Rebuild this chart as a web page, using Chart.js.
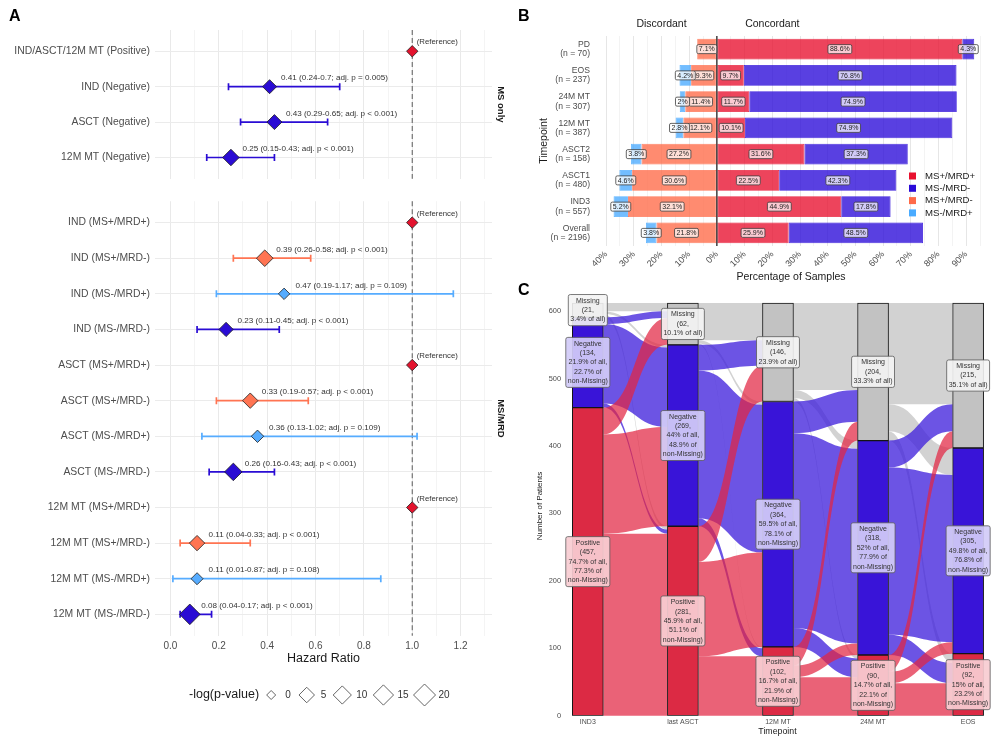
<!DOCTYPE html>
<html>
<head>
<meta charset="utf-8">
<title>MS / MRD hazard ratios, concordance and patient flow</title>
<script src="https://cdn.jsdelivr.net/npm/chart.js@4.4.1/dist/chart.umd.min.js"></script>
<style>
  html, body { margin: 0; padding: 0; background: #fff; }
  #page { position: relative; width: 1000px; height: 743px; overflow: hidden; font-family: "Liberation Sans", Arial, sans-serif; }
  canvas { position: absolute; }
  .tag { position: absolute; font-weight: bold; font-size: 16px; color: #000; line-height: 18px; }
</style>
</head>
<body>
<div id="page">
  <canvas id="forestTop" width="515" height="190" style="left:0;top:0"></canvas>
  <canvas id="forestBottom" width="515" height="553" style="left:0;top:190px"></canvas>
  <canvas id="concordance" width="480" height="285" style="left:520px;top:0"></canvas>
  <canvas id="alluvial" width="480" height="458" style="left:520px;top:285px"></canvas>
  <div class="tag" style="left:9px;top:7px">A</div>
  <div class="tag" style="left:518px;top:7px">B</div>
  <div class="tag" style="left:518px;top:281px">C</div>
</div>
<script>
// ---------- panel A: hazard ratios ----------
const msOnlyRows = ['IND/ASCT/12M MT (Positive)', 'IND (Negative)', 'ASCT (Negative)', '12M MT (Negative)'];
const msOnlyGroup = ['Positive', 'Negative', 'Negative', 'Negative'];
const msOnlyHR = [1, 0.41, 0.43, 0.25];
const msOnlyLo = [null, 0.24, 0.29, 0.15];
const msOnlyHi = [null, 0.7, 0.65, 0.43];
const msOnlyP = [null, '= 0.005', '< 0.001', '< 0.001'];
const msOnlyLogP = [0.7, 3.0, 4.3, 6.8];

const msMrdRows = [
  'IND (MS+/MRD+)', 'IND (MS+/MRD-)', 'IND (MS-/MRD+)', 'IND (MS-/MRD-)',
  'ASCT (MS+/MRD+)', 'ASCT (MS+/MRD-)', 'ASCT (MS-/MRD+)', 'ASCT (MS-/MRD-)',
  '12M MT (MS+/MRD+)', '12M MT (MS+/MRD-)', '12M MT (MS-/MRD+)', '12M MT (MS-/MRD-)'
];
const msMrdGroup = ['MS+/MRD+', 'MS+/MRD-', 'MS-/MRD+', 'MS-/MRD-',
                    'MS+/MRD+', 'MS+/MRD-', 'MS-/MRD+', 'MS-/MRD-',
                    'MS+/MRD+', 'MS+/MRD-', 'MS-/MRD+', 'MS-/MRD-'];
const msMrdHR = [1, 0.39, 0.47, 0.23, 1, 0.33, 0.36, 0.26, 1, 0.11, 0.11, 0.08];
const msMrdLo = [null, 0.26, 0.19, 0.11, null, 0.19, 0.13, 0.16, null, 0.04, 0.01, 0.04];
const msMrdHi = [null, 0.58, 1.17, 0.45, null, 0.57, 1.02, 0.43, null, 0.33, 0.87, 0.17];
const msMrdP = [null, '< 0.001', '= 0.109', '< 0.001', null, '< 0.001', '= 0.109', '< 0.001',
                null, '< 0.001', '= 0.108', '< 0.001'];
const msMrdLogP = [0.7, 6.8, 0.7, 3.4, 0.7, 4.8, 1.4, 8.7, 0.7, 4.8, 1.1, 15.9];
const sizeKeyValues = [0, 5, 10, 15, 20];

// ---------- panel B: concordance ----------
const bTimepoints = ['PD', 'EOS', '24M MT', '12M MT', 'ASCT2', 'ASCT1', 'IND3', 'Overall'];
const bCounts = [70, 237, 307, 387, 158, 480, 557, 2196];
const bPosPos = [88.6, 9.7, 11.7, 10.1, 31.6, 22.5, 44.9, 25.9];   // MS+/MRD+
const bNegNeg = [4.3, 76.8, 74.9, 74.9, 37.3, 42.3, 17.8, 48.5];   // MS-/MRD-
const bPosNeg = [7.1, 9.3, 11.4, 12.1, 27.2, 30.6, 32.1, 21.8];    // MS+/MRD-
const bNegPos = [0, 4.2, 2, 2.8, 3.8, 4.6, 5.2, 3.8];              // MS-/MRD+
const bSides = ['Discordant', 'Concordant'];

// ---------- panel C: alluvial ----------
const cTimepoints = ['IND3', 'last ASCT', '12M MT', '24M MT', 'EOS'];
const cStatus = ['Positive', 'Negative', 'Missing'];
const cPositive = [457, 281, 102, 90, 92];
const cNegative = [134, 269, 364, 318, 305];
const cMissing = [21, 62, 146, 204, 215];
// rows: from Positive/Negative/Missing, columns: to Positive/Negative/Missing
const cFlowIND3toASCT = [[270, 147, 40], [6, 118, 10], [5, 4, 12]];
const cFlowASCTto12M = [[88, 140, 53], [12, 219, 38], [2, 5, 55]];
const cFlow12Mto24M = [[57, 17, 28], [28, 289, 47], [5, 12, 129]];
const cFlow24MtoEOS = [[48, 17, 25], [30, 248, 40], [14, 40, 150]];

const FONT = '"Liberation Sans", Arial, sans-serif';
Chart.defaults.font.family = FONT;
Chart.defaults.animation = false;
Chart.defaults.responsive = false;
Chart.defaults.plugins.legend.display = false;
Chart.defaults.plugins.tooltip.enabled = false;

const GROUP_COLOURS = {
  'Positive': '#e3132e', 'MS+/MRD+': '#e3132e',
  'Negative': '#2a0cd4', 'MS-/MRD-': '#2a0cd4',
  'MS+/MRD-': '#ff7452', 'MS-/MRD+': '#56acff'
};
const sizeForLogP = v => 4.5 + 6.5 * Math.sqrt(v / 20);

function box(ctx, x, y, w, h, r) {
  ctx.beginPath();
  if (ctx.roundRect) ctx.roundRect(x, y, w, h, r); else ctx.rect(x, y, w, h);
}

function forestChart(id, o) {
  const n = o.rows.length;
  const decor = {
    id: 'forestDecor',
    beforeDatasetsDraw(chart) {
      const { ctx, chartArea: a, scales: { x, y } } = chart;
      ctx.save();
      const xr = x.getPixelForValue(1);
      ctx.strokeStyle = '#5a5a5a';
      ctx.lineWidth = 1;
      ctx.setLineDash([5, 3]);
      ctx.beginPath(); ctx.moveTo(xr, a.top); ctx.lineTo(xr, a.bottom); ctx.stroke();
      ctx.setLineDash([]);
      o.rows.forEach((r, i) => {
        if (o.lo[i] == null) return;
        const yy = y.getPixelForValue(i);
        const x0 = x.getPixelForValue(o.lo[i]), x1 = x.getPixelForValue(o.hi[i]);
        ctx.strokeStyle = GROUP_COLOURS[o.group[i]];
        ctx.lineWidth = 1.7;
        ctx.beginPath();
        ctx.moveTo(x0, yy); ctx.lineTo(x1, yy);
        ctx.moveTo(x0, yy - 3.5); ctx.lineTo(x0, yy + 3.5);
        ctx.moveTo(x1, yy - 3.5); ctx.lineTo(x1, yy + 3.5);
        ctx.stroke();
      });
      ctx.restore();
    },
    afterDatasetsDraw(chart) {
      const { ctx, scales: { x, y } } = chart;
      ctx.save();
      ctx.fillStyle = '#333';
      ctx.textBaseline = 'middle';
      ctx.textAlign = 'left';
      o.rows.forEach((r, i) => {
        const px = x.getPixelForValue(o.hr[i]), py = y.getPixelForValue(i);
        if (o.lo[i] == null) {
          ctx.font = '7.8px ' + FONT;
          ctx.fillText('(Reference)', px + 4.5, py - 9);
        } else {
          ctx.font = '8.1px ' + FONT;
          ctx.fillText(`${o.hr[i]} (${o.lo[i]}-${o.hi[i]}; adj. p ${o.p[i]})`, px + 11.5, py - 8.5);
        }
      });
      ctx.restore();
    },
    afterDraw(chart) {
      const { ctx, chartArea: a } = chart;
      ctx.save();
      ctx.fillStyle = '#1a1a1a';
      ctx.font = 'bold 9.5px ' + FONT;
      ctx.textAlign = 'center';
      ctx.textBaseline = 'middle';
      ctx.translate(a.right + 9, (a.top + a.bottom) / 2);
      ctx.rotate(Math.PI / 2);
      ctx.fillText(o.strip, 0, 0);
      ctx.restore();
      if (!o.footer) return;
      ctx.save();
      ctx.fillStyle = '#1a1a1a';
      ctx.textBaseline = 'middle';
      ctx.textAlign = 'center';
      ctx.font = '12.5px ' + FONT;
      ctx.fillText('Hazard Ratio', (a.left + a.right) / 2, a.bottom + 22.6);
      // size legend
      const ly = a.bottom + 59.3;
      ctx.textAlign = 'left';
      ctx.fillText('-log(p-value)', 189, ly);
      let cur = 189 + ctx.measureText('-log(p-value)').width + 2;
      ctx.font = '10px ' + FONT;
      sizeKeyValues.forEach(v => {
        const cx = cur + 10, r = sizeForLogP(v);
        ctx.beginPath();
        ctx.moveTo(cx, ly - r); ctx.lineTo(cx + r, ly); ctx.lineTo(cx, ly + r); ctx.lineTo(cx - r, ly);
        ctx.closePath();
        ctx.fillStyle = '#fff'; ctx.fill();
        ctx.strokeStyle = '#555'; ctx.lineWidth = 0.9; ctx.stroke();
        ctx.fillStyle = '#333';
        ctx.fillText(String(v), cx + 14, ly);
        cur = cx + 14 + ctx.measureText(String(v)).width + 6;
      });
      ctx.restore();
    }
  };

  return new Chart(document.getElementById(id), {
    type: 'scatter',
    data: {
      datasets: [{
        data: o.hr.map((v, i) => ({ x: v, y: i })),
        pointStyle: 'rectRot',
        pointRadius: o.logp.map(sizeForLogP),
        backgroundColor: o.group.map(g => GROUP_COLOURS[g]),
        borderColor: '#1f1f1f',
        borderWidth: 0.8
      }]
    },
    options: {
      layout: { padding: o.padding },
      scales: {
        x: {
          type: 'linear', min: -0.064, max: 1.33,
          afterFit: s => { s.height = o.footer ? 22 : 0; },
          border: { display: false },
          grid: {
            drawTicks: false,
            color: c => (Math.round(c.tick.value * 10) % 2 === 0 ? '#e9e9e9' : '#f4f4f4')
          },
          ticks: {
            display: !!o.footer, stepSize: 0.1, includeBounds: false, autoSkip: false, maxRotation: 0,
            padding: 5, color: '#4d4d4d', font: { size: 10 },
            callback: v => (Math.round(v * 10) % 2 === 0 ? v.toFixed(1) : '')
          }
        },
        y: {
          type: 'linear', reverse: true, min: -0.6, max: n - 0.4,
          afterFit: s => { s.width = 155; },
          border: { display: false },
          grid: { drawTicks: false, color: '#ebebeb' },
          ticks: {
            stepSize: 1, includeBounds: false, autoSkip: false, padding: 5,
            color: '#4d4d4d', font: { size: 10.4 },
            callback: v => o.rows[v] ?? ''
          }
        }
      }
    },
    plugins: [decor]
  });
}

forestChart('forestTop', {
  rows: msOnlyRows, group: msOnlyGroup, hr: msOnlyHR, lo: msOnlyLo, hi: msOnlyHi,
  p: msOnlyP, logp: msOnlyLogP, strip: 'MS only', footer: false,
  padding: { top: 30, right: 23, bottom: 8.3, left: 0 }
});
forestChart('forestBottom', {
  rows: msMrdRows, group: msMrdGroup, hr: msMrdHR, lo: msMrdLo, hi: msMrdHi,
  p: msMrdP, logp: msMrdLogP, strip: 'MS/MRD', footer: true,
  padding: { top: 5, right: 23, bottom: 85.3, left: 0 }
});

// ---------- panel B ----------
const B_COLOURS = ['#e8102e', '#2a0ad8', '#ff6a48', '#4aabff'];
const B_NAMES = ['MS+/MRD+', 'MS-/MRD-', 'MS+/MRD-', 'MS-/MRD+'];
const fade = (hex, a) => {
  const n = parseInt(hex.slice(1), 16);
  return `rgba(${n >> 16},${(n >> 8) & 255},${n & 255},${a})`;
};

const concordanceDecor = {
  id: 'concordanceDecor',
  afterDatasetsDraw(chart) {
    const { ctx, chartArea: a, scales: { x } } = chart;
    ctx.save();
    const x0 = x.getPixelForValue(0);
    ctx.strokeStyle = '#000';
    ctx.lineWidth = 1.1;
    ctx.beginPath(); ctx.moveTo(x0, a.top); ctx.lineTo(x0, a.bottom); ctx.stroke();
    ctx.font = '7px ' + FONT;
    ctx.textAlign = 'center';
    ctx.textBaseline = 'middle';
    chart.data.datasets.forEach((ds, di) => {
      chart.getDatasetMeta(di).data.forEach((bar, i) => {
        const v = Math.abs(ds.data[i]);
        if (!v) return;
        const txt = v + '%';
        const { x: cx, y: cy } = bar.getCenterPoint();
        const w = ctx.measureText(txt).width + 4, h = 9;
        box(ctx, cx - w / 2, cy - h / 2, w, h, 1.5);
        ctx.fillStyle = 'rgba(255,255,255,0.72)'; ctx.fill();
        ctx.strokeStyle = '#3d3d3d'; ctx.lineWidth = 0.8; ctx.stroke();
        ctx.fillStyle = '#222';
        ctx.fillText(txt, cx, cy + 0.3);
      });
    });
    ctx.restore();
  },
  afterDraw(chart) {
    const { ctx, chartArea: a, scales: { x } } = chart;
    ctx.save();
    ctx.fillStyle = '#1a1a1a';
    ctx.textAlign = 'center';
    ctx.textBaseline = 'middle';
    ctx.font = '10.5px ' + FONT;
    ctx.fillText(bSides[0], x.getPixelForValue(-20), 24);
    ctx.fillText(bSides[1], x.getPixelForValue(20), 24);
    ctx.fillText('Percentage of Samples', (a.left + a.right) / 2, 277);
    ctx.save();
    ctx.translate(24, (a.top + a.bottom) / 2);
    ctx.rotate(-Math.PI / 2);
    ctx.fillText('Timepoint', 0, 0);
    ctx.restore();
    ctx.textAlign = 'left';
    ctx.font = '9.6px ' + FONT;
    B_NAMES.forEach((name, i) => {
      const cy = 176 + i * 12.3;
      ctx.fillStyle = B_COLOURS[i];
      ctx.fillRect(389, cy - 3.5, 7, 7);
      ctx.fillStyle = '#1a1a1a';
      ctx.fillText(name, 405, cy);
    });
    ctx.restore();
  }
};

new Chart(document.getElementById('concordance'), {
  type: 'bar',
  data: {
    labels: bTimepoints.map((t, i) => [t, `(n = ${bCounts[i]})`]),
    datasets: [
      { label: B_NAMES[0], data: bPosPos },
      { label: B_NAMES[1], data: bNegNeg },
      { label: B_NAMES[2], data: bPosNeg.map(v => -v) },
      { label: B_NAMES[3], data: bNegPos.map(v => -v) }
    ].map((d, i) => Object.assign(d, {
      backgroundColor: fade(B_COLOURS[i], 0.78),
      borderColor: fade(B_COLOURS[i], 0.9),
      borderWidth: 0.8,
      borderSkipped: false,
      barPercentage: 0.79,
      categoryPercentage: 1
    }))
  },
  options: {
    indexAxis: 'y',
    layout: { padding: { top: 36, right: 18, bottom: 0, left: 0 } },
    scales: {
      x: {
        type: 'linear', stacked: true, min: -42.2, max: 95.7,
        afterFit: s => { s.height = 39; },
        border: { display: false },
        grid: {
          drawTicks: false,
          color: c => (Math.round(c.tick.value) % 10 === 0 ? '#e6e6e6' : '#f3f3f3')
        },
        ticks: {
          stepSize: 5, includeBounds: false, autoSkip: false, minRotation: 45, maxRotation: 45,
          padding: 3, color: '#4d4d4d', font: { size: 9 },
          callback: v => (Math.round(v) % 10 === 0 ? Math.abs(v) + '%' : '')
        }
      },
      y: {
        stacked: true,
        afterFit: s => { s.width = 80; },
        border: { display: false },
        grid: { display: false, drawTicks: false },
        ticks: { padding: 10, color: '#4d4d4d', font: { size: 8.6, lineHeight: 1.05 }, autoSkip: false }
      }
    }
  },
  plugins: [concordanceDecor]
});

// ---------- panel C ----------
const C_STRATUM = ['#dc2a44', '#3914d8', '#c2c2c2'];
const C_FLOW = ['rgba(226,38,66,0.72)', 'rgba(62,30,220,0.76)', 'rgba(188,188,188,0.68)'];
const C_LABEL = ['rgba(248,204,210,0.93)', 'rgba(210,203,248,0.93)', 'rgba(244,244,244,0.9)'];
const cFlows = [cFlowIND3toASCT, cFlowASCTto12M, cFlow12Mto24M, cFlow24MtoEOS];
const cCounts = [cPositive, cNegative, cMissing];
const fmtPct = v => String(Math.round(v * 10) / 10);

const alluvialDecor = {
  id: 'alluvialDecor',
  beforeDatasetsDraw(chart) {
    const { ctx, scales: { y } } = chart;
    const bars = chart.getDatasetMeta(0).data;
    const ribbons = [];
    cFlows.forEach((m, k) => {
      const baseFrom = [0, cPositive[k], cPositive[k] + cNegative[k]];
      const baseTo = [0, cPositive[k + 1], cPositive[k + 1] + cNegative[k + 1]];
      const x0 = bars[k].x + bars[k].width / 2, x1 = bars[k + 1].x - bars[k + 1].width / 2;
      for (let o = 0; o < 3; o++) {
        for (let d = 0; d < 3; d++) {
          const v = m[o][d];
          if (!v) continue;
          let a0 = baseFrom[o];
          for (let j = 0; j < d; j++) a0 += m[o][j];
          let a1 = baseTo[d];
          for (let j = 0; j < o; j++) a1 += m[j][d];
          ribbons.push({ o, x0, x1, a0, b0: a0 + v, a1, b1: a1 + v });
        }
      }
    });
    ctx.save();
    ribbons.sort((p, q) => q.o - p.o).forEach(r => {
      const xm = (r.x0 + r.x1) / 2;
      ctx.beginPath();
      ctx.moveTo(r.x0, y.getPixelForValue(r.b0));
      ctx.bezierCurveTo(xm, y.getPixelForValue(r.b0), xm, y.getPixelForValue(r.b1), r.x1, y.getPixelForValue(r.b1));
      ctx.lineTo(r.x1, y.getPixelForValue(r.a1));
      ctx.bezierCurveTo(xm, y.getPixelForValue(r.a1), xm, y.getPixelForValue(r.a0), r.x0, y.getPixelForValue(r.a0));
      ctx.closePath();
      ctx.fillStyle = C_FLOW[r.o];
      ctx.fill();
    });
    ctx.restore();
  },
  afterDatasetsDraw(chart) {
    const { ctx, scales: { y } } = chart;
    const bars = chart.getDatasetMeta(0).data;
    ctx.save();
    ctx.font = '7px ' + FONT;
    ctx.textAlign = 'center';
    ctx.textBaseline = 'middle';
    const lh = 9.4;
    cTimepoints.forEach((t, i) => {
      const total = cPositive[i] + cNegative[i] + cMissing[i];
      const known = cPositive[i] + cNegative[i];
      let base = 0;
      cStatus.forEach((s, si) => {
        const v = cCounts[si][i];
        const mid = base + v / 2;
        base += v;
        const lines = s === 'Missing'
          ? [s, `(${v},`, `${fmtPct(100 * v / total)}% of all)`]
          : [s, `(${v},`, `${fmtPct(100 * v / total)}% of all,`, `${fmtPct(100 * v / known)}% of`, 'non-Missing)'];
        const w = Math.max(...lines.map(l => ctx.measureText(l).width)) + 4;
        const h = lines.length * lh + 3;
        const cx = bars[i].x, cy = y.getPixelForValue(mid);
        box(ctx, cx - w / 2, cy - h / 2, w, h, 2);
        ctx.fillStyle = C_LABEL[si]; ctx.fill();
        ctx.strokeStyle = '#5a5a5a'; ctx.lineWidth = 0.8; ctx.stroke();
        ctx.fillStyle = '#333';
        lines.forEach((l, li) => ctx.fillText(l, cx, cy - h / 2 + 1.5 + lh * (li + 0.5)));
      });
    });
    ctx.restore();
  },
  afterDraw(chart) {
    const { ctx, chartArea: a, scales: { x } } = chart;
    ctx.save();
    ctx.fillStyle = '#4d4d4d';
    ctx.textAlign = 'center';
    ctx.textBaseline = 'middle';
    ctx.font = '7px ' + FONT;
    cTimepoints.forEach((t, i) => ctx.fillText(t, x.getPixelForValue(i), a.bottom + 6.5));
    ctx.fillStyle = '#1a1a1a';
    ctx.font = '8.8px ' + FONT;
    ctx.fillText('Timepoint', (a.left + a.right) / 2, 447);
    ctx.font = '8px ' + FONT;
    ctx.translate(20, (a.top + a.bottom) / 2);
    ctx.rotate(-Math.PI / 2);
    ctx.fillText('Number of Patients', 0, 0);
    ctx.restore();
  }
};

new Chart(document.getElementById('alluvial'), {
  type: 'bar',
  data: {
    datasets: cStatus.map((s, si) => ({
      label: s,
      data: cCounts[si].map((v, i) => ({ x: i, y: v })),
      backgroundColor: C_STRATUM[si],
      borderColor: '#151515',
      borderWidth: 1,
      borderSkipped: false,
      barThickness: 31
    }))
  },
  options: {
    layout: { padding: { top: 11.3, right: 10, bottom: 15.3, left: 0 } },
    scales: {
      x: {
        type: 'linear', stacked: true, offset: false, min: -0.24, max: 4.23,
        afterFit: s => { s.height = 12; },
        border: { display: false },
        grid: { display: false, drawTicks: false },
        ticks: { display: false, stepSize: 1, includeBounds: false }
      },
      y: {
        type: 'linear', stacked: true, min: 0, max: 622,
        afterFit: s => { s.width = 45; },
        border: { display: false },
        grid: { display: false, drawTicks: false },
        ticks: { stepSize: 100, includeBounds: false, padding: 4, color: '#4d4d4d', font: { size: 7.4 } }
      }
    }
  },
  plugins: [alluvialDecor]
});
</script>
</body>
</html>
